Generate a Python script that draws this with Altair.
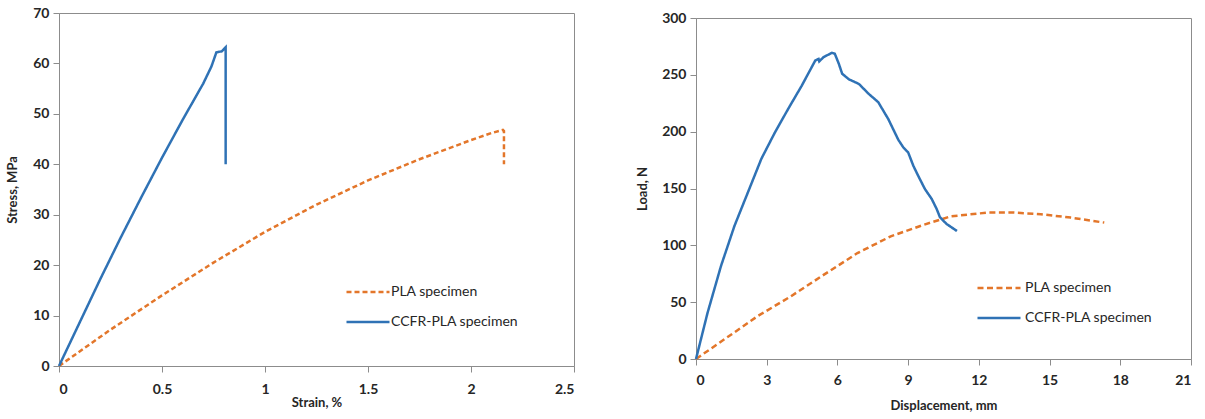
import altair as alt
import pandas as pd

# ---- Left panel: stress-strain ----
pla_strain = [0, 0.25, 0.5, 0.75, 1.0, 1.25, 1.5, 1.75, 2.0, 2.1, 2.155, 2.16, 2.16]
pla_stress = [0, 7.2, 14.0, 20.5, 26.6, 32.0, 36.8, 41.0, 44.8, 46.2, 46.8, 46.6, 40.0]
ccfr_strain = [0, 0.1, 0.2, 0.3, 0.4, 0.5, 0.6, 0.7, 0.74, 0.764, 0.79, 0.809, 0.809]
ccfr_stress = [0, 8.6, 17.2, 25.5, 33.5, 41.3, 48.8, 56.0, 59.4, 62.2, 62.4, 63.2, 40.0]

# ---- Right panel: load-displacement ----
pla_disp = [0, 0.2, 1.3, 2.6, 4.02, 5.43, 6.85, 8.26, 9.68, 10.81, 12.37, 13.5, 14.63, 15.9, 17.32]
pla_load = [0, 2.9, 18.7, 37.5, 55.1, 74.2, 93.2, 107.9, 118.2, 125.5, 128.8, 128.8, 127.4, 124.4, 120]
ccfr_disp = [0, 0.49, 1.06, 1.63, 2.2, 2.77, 3.34, 3.91, 4.49, 5.06, 5.2, 5.23, 5.41, 5.77, 5.89,
             6.06, 6.2, 6.49, 6.91, 7.34, 7.73, 8.16, 8.58, 8.8, 9.0, 9.22, 9.43, 9.71, 10.0,
             10.21, 10.35, 10.63, 11.07]
ccfr_load = [0, 40.6, 81.8, 117, 146.5, 176, 199, 220, 240.6, 262.6, 264, 261.8, 265.6, 269.4, 268.5,
             259.7, 251, 246, 242, 233, 226, 211, 193, 186, 181.8, 170, 161, 149.6, 140.8,
             132, 124.7, 118.8, 112.6]

series = ["PLA specimen", "CCFR-PLA specimen"]
colors = ["#E3762A", "#2F72B5"]

FONT = "Lato"
TXT = "#262626"
GREY = "#8c8c8c"


def frame(xs, ys, name, xname, yname):
    return pd.DataFrame({xname: xs, yname: ys, "Series": name, "order": range(len(xs))})


left_df = pd.concat([
    frame(pla_strain, pla_stress, series[0], "strain", "stress"),
    frame(ccfr_strain, ccfr_stress, series[1], "strain", "stress"),
])
right_df = pd.concat([
    frame(pla_disp, pla_load, series[0], "disp", "load"),
    frame(ccfr_disp, ccfr_load, series[1], "disp", "load"),
])


def axis(title, values, fmt, title_pad, label_pad=4):
    return alt.Axis(
        title=title, values=values, format=fmt, grid=False,
        domainColor=GREY, tickColor=GREY, tickSize=6,
        labelFont=FONT, labelFontSize=14, labelFontWeight="bold", labelColor=TXT,
        labelPadding=label_pad,
        titleFont=FONT, titleFontSize=13, titleFontWeight="bold", titleColor=TXT,
        titlePadding=title_pad,
    )


def legend(x, y, row_pad, offset):
    return alt.Legend(
        title=None, orient="none", legendX=x, legendY=y,
        symbolType="stroke", symbolSize=1850, symbolStrokeWidth=2.5,
        labelFont=FONT, labelFontSize=14, labelColor=TXT,
        rowPadding=row_pad, labelOffset=offset,
    )


left = alt.Chart(left_df).mark_line(strokeWidth=2.5).encode(
    x=alt.X("strain:Q", scale=alt.Scale(domain=[0, 2.5], nice=False),
            axis=axis("Strain, %", [0, 0.5, 1, 1.5, 2, 2.5], ".1~f", 0, 10)),
    y=alt.Y("stress:Q", scale=alt.Scale(domain=[0, 70], nice=False),
            axis=axis("Stress, MPa", list(range(0, 71, 10)), "d", 13)),
    color=alt.Color("Series:N", scale=alt.Scale(domain=series, range=colors),
                    legend=legend(286, 256, -13, 0)),
    strokeDash=alt.StrokeDash("Series:N", scale=alt.Scale(domain=series, range=[[5, 3], [1, 0]]),
                              legend=legend(286, 256, -13, 0)),
    order="order:Q",
).properties(width=515, height=353)

right = alt.Chart(right_df).mark_line(strokeWidth=2.5).encode(
    x=alt.X("disp:Q", scale=alt.Scale(domain=[0, 21], nice=False),
            axis=axis("Displacement,  mm", list(range(0, 22, 3)), "d", 12, 8)),
    y=alt.Y("load:Q", scale=alt.Scale(domain=[0, 300], nice=False),
            axis=axis("Load, N", list(range(0, 301, 50)), "d", 12)),
    color=alt.Color("Series:N", scale=alt.Scale(domain=series, range=colors),
                    legend=legend(280, 247, -25, 3)),
    strokeDash=alt.StrokeDash("Series:N", scale=alt.Scale(domain=series, range=[[6, 3.5], [1, 0]]),
                              legend=legend(280, 247, -25, 3)),
    order="order:Q",
).properties(width=495, height=341)

spacer = alt.Chart(pd.DataFrame({"a": [0]})).mark_point(opacity=0, size=0).encode(
    x=alt.value(0), y=alt.value(0)
).properties(width=10, height=1, view=alt.ViewBackground(stroke="transparent"))

right_col = alt.vconcat(spacer, right, spacing=-5).resolve_scale(
    color="independent", strokeDash="independent"
).resolve_legend(color="independent", strokeDash="independent")

chart = alt.hconcat(left, right_col, spacing=61).resolve_scale(
    color="independent", strokeDash="independent"
).resolve_legend(color="independent", strokeDash="independent").properties(
    padding={"left": 6, "top": 5, "right": 5, "bottom": 5},
    background="white",
).configure_view(stroke=GREY, strokeWidth=1)

chart.save("out.html", embed_options={"renderer": "svg", "actions": False})
